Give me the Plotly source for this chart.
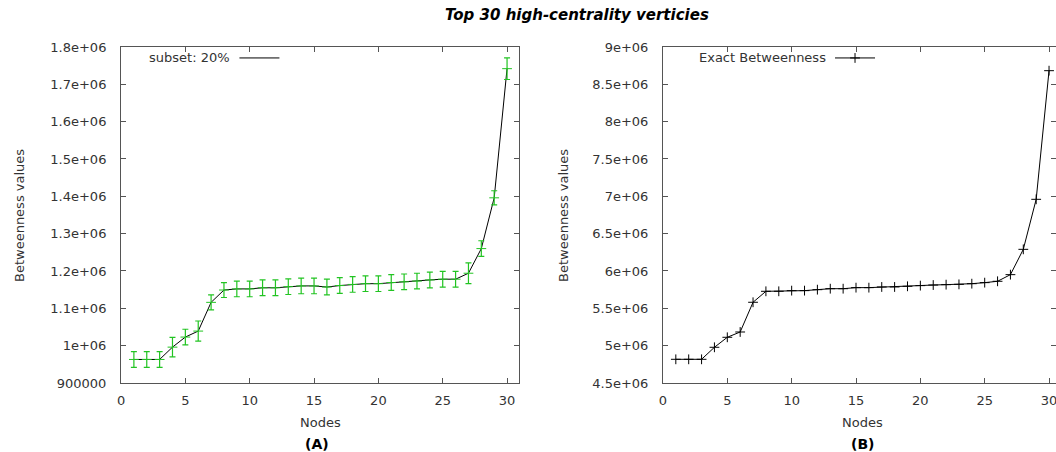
import plotly.graph_objects as go

nodes = list(range(1, 31))

subset_vals = [963000, 963000, 963000, 996000, 1023000, 1039000, 1116000, 1149000,
               1152000, 1152000, 1155000, 1155000, 1158000, 1160000, 1160000, 1157000,
               1161000, 1164000, 1166000, 1166000, 1169000, 1171000, 1173000, 1176000,
               1178000, 1178000, 1194000, 1260000, 1396000, 1742000]
subset_err = [21000, 21000, 21000, 26000, 21000, 27000, 20000, 20000,
              21000, 21000, 21000, 21000, 21000, 21000, 21000, 21000,
              21000, 21000, 21000, 21000, 21000, 21000, 21000, 21000,
              21000, 21000, 28000, 21000, 19000, 29000]

exact_vals = [4817000, 4817000, 4817000, 4978000, 5112000, 5183000, 5581000, 5728000,
              5728000, 5737000, 5737000, 5750000, 5763000, 5763000, 5777000, 5777000,
              5786000, 5786000, 5795000, 5804000, 5812000, 5817000, 5821000, 5830000,
              5844000, 5862000, 5951000, 6290000, 6960000, 8683000]

left_ticks = [900000, 1000000, 1100000, 1200000, 1300000, 1400000, 1500000, 1600000, 1700000, 1800000]
left_tick_text = ["900000", "1e+06", "1.1e+06", "1.2e+06", "1.3e+06", "1.4e+06",
                  "1.5e+06", "1.6e+06", "1.7e+06", "1.8e+06"]
right_ticks = [4500000, 5000000, 5500000, 6000000, 6500000, 7000000, 7500000, 8000000, 8500000, 9000000]
right_tick_text = ["4.5e+06", "5e+06", "5.5e+06", "6e+06", "6.5e+06", "7e+06",
                   "7.5e+06", "8e+06", "8.5e+06", "9e+06"]
x_ticks = [0, 5, 10, 15, 20, 25, 30]

FONT = "DejaVu Sans"
TXT = "#333333"
GREEN = "#22c422"
FRAME = "#555555"

fig = go.Figure()

fig.add_trace(go.Scatter(
    x=nodes, y=subset_vals, mode="lines", name="",
    line=dict(color="black", width=1), xaxis="x", yaxis="y", legend="legend",
    showlegend=True))
fig.add_trace(go.Scatter(
    x=nodes, y=subset_vals, mode="markers", showlegend=False,
    marker=dict(symbol="line-ew", size=7, line=dict(color=GREEN, width=1)),
    error_y=dict(type="data", array=subset_err, color=GREEN, thickness=1.2, width=3),
    xaxis="x", yaxis="y"))

fig.add_trace(go.Scatter(
    x=nodes, y=exact_vals, mode="lines+markers", name="",
    line=dict(color="black", width=1),
    marker=dict(symbol="cross-thin", size=7, line=dict(color="black", width=1)),
    xaxis="x2", yaxis="y2", legend="legend2", showlegend=True))

axis_common = dict(showline=True, linecolor=FRAME, linewidth=1, mirror="allticks",
                   ticks="inside", ticklen=5, tickcolor=FRAME, showgrid=False,
                   zeroline=False, automargin=False, ticklabeloverflow="allow",
                   tickfont=dict(family=FONT, size=13, color=TXT))

fig.update_layout(
    width=1056, height=452,
    margin=dict(l=0, r=0, t=0, b=0, autoexpand=False),
    paper_bgcolor="white", plot_bgcolor="white",
    font=dict(family=FONT, size=13, color=TXT),
    xaxis=dict(domain=[0.1146, 0.4915], range=[0, 30.93], tickvals=x_ticks,
               anchor="y", ticklabelstandoff=5, **axis_common),
    yaxis=dict(domain=[0.1527, 0.896], range=[900000, 1800000], tickvals=left_ticks,
               ticktext=left_tick_text, anchor="x", ticklabelstandoff=11, **axis_common),
    xaxis2=dict(domain=[0.6278, 1.0], range=[0, 30.54], tickvals=x_ticks,
                anchor="y2", ticklabelstandoff=5, **axis_common),
    yaxis2=dict(domain=[0.1527, 0.896], range=[4500000, 9000000], tickvals=right_ticks,
                ticktext=right_tick_text, anchor="x2", ticklabelstandoff=11, **axis_common),
    legend=dict(x=0.222, y=1 - 58/452, xanchor="left", yanchor="middle",
                bgcolor="rgba(0,0,0,0)", itemwidth=40, font=dict(size=13)),
    legend2=dict(x=0.786, y=1 - 58/452, xanchor="left", yanchor="middle",
                 bgcolor="rgba(0,0,0,0)", itemwidth=40, font=dict(size=13)),
    annotations=[
        dict(text="<b><i>Top 30 high-centrality verticies</i></b>", x=577/1056, y=1 - 15/452,
             xref="paper", yref="paper", xanchor="center", yanchor="middle",
             showarrow=False, font=dict(size=15, color="black")),
        dict(text="subset: 20%", x=147/1056, y=1-58/452, xref="paper", yref="paper",
             xanchor="left", yanchor="middle", showarrow=False),
        dict(text="Exact Betweenness", x=697/1056, y=1-58/452, xref="paper", yref="paper",
             xanchor="left", yanchor="middle", showarrow=False),
        dict(text="Nodes", x=320/1056, y=1-422/452, xref="paper", yref="paper",
             xanchor="center", yanchor="middle", showarrow=False),
        dict(text="Nodes", x=862/1056, y=1-422/452, xref="paper", yref="paper",
             xanchor="center", yanchor="middle", showarrow=False),
        dict(text="<b>(A)</b>", x=317/1056, y=1-444/452, xref="paper", yref="paper",
             xanchor="center", yanchor="middle", showarrow=False,
             font=dict(size=14, color="black")),
        dict(text="<b>(B)</b>", x=862/1056, y=1-444/452, xref="paper", yref="paper",
             xanchor="center", yanchor="middle", showarrow=False,
             font=dict(size=14, color="black")),
        dict(text="Betweenness values", x=19/1056, y=1-216/452, xref="paper", yref="paper",
             xanchor="center", yanchor="middle", showarrow=False, textangle=-90),
        dict(text="Betweenness values", x=563/1056, y=1-216/452, xref="paper", yref="paper",
             xanchor="center", yanchor="middle", showarrow=False, textangle=-90),
    ],
)

fig.write_html("out.html")
